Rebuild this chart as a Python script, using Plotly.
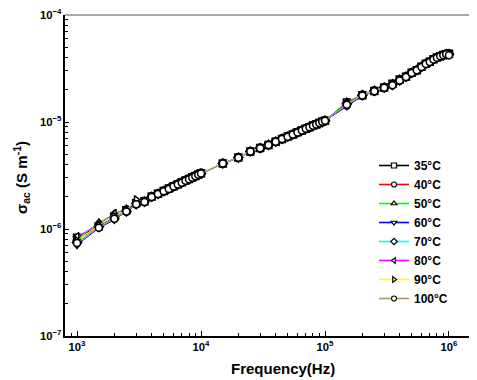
import plotly.graph_objects as go

freq_hz = [1000, 1500, 2000, 2500, 3000, 3500, 4000, 4500, 5000, 5500, 6000, 6500, 7000, 7500, 8000, 8500, 9000, 9500, 10000,
           15000, 20000, 25000, 30000, 35000, 40000, 45000, 50000, 55000, 60000, 65000, 70000, 75000, 80000, 85000, 90000, 95000, 100000,
           150000, 200000, 250000, 300000, 350000, 400000, 450000, 500000, 550000, 600000, 650000, 700000, 750000, 800000, 850000, 900000, 950000, 1000000]

# conductivity values in units of 1e-6 S/m
UNIT = 1e-6
sig_35 = [0.83, 1.06, 1.30, 1.50, 1.74, 1.82, 2.01, 2.14, 2.27, 2.39, 2.51, 2.62, 2.73, 2.84, 2.94, 3.04, 3.13, 3.23, 3.32,
          4.10, 4.65, 5.30, 5.70, 6.10, 6.55, 6.95, 7.30, 7.65, 8.00, 8.35, 8.65, 8.95, 9.25, 9.50, 9.80, 10.05, 10.30,
          15.2, 17.8, 19.5, 21.0, 22.8, 25.0, 26.5, 28.8, 30.5, 32.8, 35.0, 36.5, 38.5, 40.0, 41.2, 42.2, 43.0, 43.5]
sig_40 = [0.79, 1.04, 1.24, 1.45, 1.70, 1.79, 1.99, 2.12, 2.25, 2.37, 2.49, 2.60, 2.71, 2.82, 2.92, 3.02, 3.11, 3.21, 3.30,
          4.08, 4.64, 5.28, 5.69, 6.09, 6.54, 6.94, 7.29, 7.64, 7.99, 8.34, 8.64, 8.94, 9.24, 9.49, 9.79, 10.04, 10.28,
          14.3, 17.6, 19.4, 20.9, 22.0, 24.3, 26.4, 28.7, 30.4, 32.7, 34.9, 36.4, 38.4, 39.9, 41.1, 42.1, 42.9, 42.8]
sig_50 = [0.80, 1.15, 1.38, 1.55, 1.80, 1.83, 2.02, 2.15, 2.28, 2.40, 2.52, 2.63, 2.74, 2.85, 2.95, 3.05, 3.14, 3.24, 3.33,
          4.12, 4.67, 5.32, 5.72, 6.12, 6.57, 6.97, 7.32, 7.67, 8.02, 8.37, 8.67, 8.97, 9.27, 9.52, 9.82, 10.07, 10.32,
          15.5, 18.0, 19.7, 21.3, 23.0, 25.2, 26.7, 29.0, 30.7, 33.0, 35.2, 36.7, 38.7, 40.2, 41.4, 42.4, 43.2, 43.4]
sig_60 = [0.71, 1.02, 1.22, 1.44, 1.68, 1.78, 1.98, 2.11, 2.24, 2.36, 2.48, 2.59, 2.70, 2.81, 2.91, 3.01, 3.10, 3.20, 3.29,
          4.07, 4.62, 5.27, 5.68, 6.08, 6.53, 6.93, 7.28, 7.63, 7.98, 8.33, 8.63, 8.93, 9.23, 9.48, 9.78, 10.03, 10.27,
          14.0, 17.5, 19.3, 20.8, 21.8, 24.0, 26.3, 28.6, 30.3, 32.6, 34.8, 36.3, 38.3, 39.8, 41.0, 42.0, 42.8, 42.6]
sig_70 = [0.75, 1.05, 1.26, 1.46, 1.71, 1.80, 2.00, 2.13, 2.26, 2.38, 2.50, 2.61, 2.72, 2.83, 2.93, 3.03, 3.12, 3.22, 3.31,
          4.10, 4.65, 5.30, 5.70, 6.10, 6.55, 6.95, 7.30, 7.65, 8.00, 8.35, 8.65, 8.95, 9.25, 9.50, 9.80, 10.05, 10.30,
          14.8, 17.8, 19.5, 21.0, 22.3, 24.6, 26.5, 28.8, 30.5, 32.8, 35.0, 36.5, 38.5, 40.0, 41.2, 42.2, 43.0, 43.1]
sig_80 = [0.85, 1.10, 1.40, 1.52, 1.76, 1.81, 2.01, 2.14, 2.27, 2.39, 2.51, 2.62, 2.73, 2.84, 2.94, 3.04, 3.13, 3.23, 3.32,
          4.11, 4.66, 5.31, 5.71, 6.11, 6.56, 6.96, 7.31, 7.66, 8.01, 8.36, 8.66, 8.96, 9.26, 9.51, 9.81, 10.06, 10.31,
          15.0, 17.9, 19.6, 21.1, 22.6, 24.8, 26.6, 28.9, 30.6, 32.9, 35.1, 36.6, 38.6, 40.1, 41.3, 42.3, 43.1, 43.3]
sig_90 = [0.78, 1.08, 1.32, 1.50, 1.88, 1.82, 2.01, 2.14, 2.27, 2.39, 2.51, 2.62, 2.73, 2.84, 2.94, 3.04, 3.13, 3.23, 3.32,
          4.10, 4.65, 5.30, 5.70, 6.10, 6.55, 6.95, 7.30, 7.65, 8.00, 8.35, 8.65, 8.95, 9.25, 9.50, 9.80, 10.05, 10.30,
          14.6, 17.8, 19.5, 21.0, 22.4, 24.7, 26.5, 28.8, 30.5, 32.8, 35.0, 36.5, 38.5, 40.0, 41.2, 42.2, 43.0, 43.2]
sig_100 = [0.74, 1.03, 1.25, 1.46, 1.70, 1.79, 1.99, 2.12, 2.25, 2.37, 2.49, 2.60, 2.71, 2.82, 2.92, 3.02, 3.11, 3.21, 3.30,
           4.09, 4.64, 5.29, 5.69, 6.09, 6.54, 6.94, 7.29, 7.64, 7.99, 8.34, 8.64, 8.94, 9.24, 9.49, 9.79, 10.04, 10.29,
           14.5, 17.7, 19.4, 20.9, 22.1, 24.4, 26.4, 28.7, 30.4, 32.7, 34.9, 36.4, 38.4, 39.9, 41.1, 42.1, 42.9, 42.0]

series_names = ["35°C", "40°C", "50°C", "60°C", "70°C", "80°C", "90°C", "100°C"]
series_values = [sig_35, sig_40, sig_50, sig_60, sig_70, sig_80, sig_90, sig_100]
line_colors = ["#000000", "#ff0000", "#00ff00", "#0000ff", "#00ffff", "#ff00ff", "#ffff00", "#9f9a5e"]
symbols = ["square", "circle", "triangle-up", "triangle-down", "diamond", "triangle-left", "triangle-right", "circle"]

FONT = "Liberation Sans, Arial, sans-serif"

fig = go.Figure()
for name, vals, col, sym in zip(series_names, series_values, line_colors, symbols):
    fig.add_trace(go.Scatter(
        x=freq_hz, y=[v * UNIT for v in vals], name=name, mode="lines+markers",
        line=dict(color=col, width=1), showlegend=False, legendgroup=name,
        marker=dict(symbol=sym, size=7, color="white", line=dict(color="black", width=1.5)),
    ))
# legend entries (smaller symbols, as in the reference legend)
for name, col, sym in zip(series_names, line_colors, symbols):
    fig.add_trace(go.Scatter(
        x=[None], y=[None], name=name, mode="lines+markers", legendgroup=name,
        line=dict(color=col, width=1.6),
        marker=dict(symbol=sym, size=5, color="white", line=dict(color="black", width=1.2)),
    ))

# page body has an 8px margin; work in screen pixels and shift
OFF = 8
W, H = 477 - OFF, 380 - OFF
L, R, T, B = 65 - OFF, 0, 15 - OFF, 380 - 336
pw, ph = W - L - R, H - T - B


def px(xs):
    return (xs - OFF - L) / pw


def py(ys):
    return 1 - (ys - OFF - T) / ph


fig.update_layout(
    width=W, height=H,
    margin=dict(l=L, r=R, t=T, b=B, pad=0),
    paper_bgcolor="white", plot_bgcolor="white",
    font=dict(family=FONT, color="black", size=12, weight="bold"),
    showlegend=True,
    legend=dict(x=px(374), y=py(151), xanchor="left", yanchor="top",
                bgcolor="rgba(0,0,0,0)", borderwidth=0,
                font=dict(family=FONT, size=12, weight="bold", color="black"),
                tracegroupgap=0),
    xaxis=dict(type="log", range=[2.903, 6.226], dtick=1, exponentformat="power",
               showgrid=False, zeroline=False, showline=True, linecolor="black", linewidth=1.5,
               ticks="inside", ticklen=5, tickwidth=1, tickcolor="black",
               tickfont=dict(family=FONT, size=9, weight="bold"), ticklabeloverflow="allow",
               minor=dict(ticks="inside", ticklen=3, dtick="D1", tickcolor="black", showgrid=False),
               mirror=False),
    yaxis=dict(type="log", range=[-7, -4], dtick=1, exponentformat="power",
               showgrid=False, zeroline=False, showline=True, linecolor="black", linewidth=1.5,
               ticks="inside", ticklen=4, tickwidth=1, tickcolor="black",
               tickfont=dict(family=FONT, size=9, weight="bold"), ticklabeloverflow="allow",
               minor=dict(ticks="inside", ticklen=3, dtick="D1", tickcolor="black", showgrid=False),
               mirror=False),
    shapes=[dict(type="line", xref="paper", yref="paper", x0=0, x1=1, y0=1, y1=1,
                 line=dict(color="#555555", width=1))],
    annotations=[
        dict(text="<b>Frequency(Hz)</b>", xref="paper", yref="paper",
             x=px(283), y=py(368), xanchor="center", yanchor="middle",
             showarrow=False, font=dict(family=FONT, size=15, color="black")),
        dict(text="<b>σ<sub>ac</sub> (S m<sup>-1</sup>)</b>", xref="paper", yref="paper",
             x=px(22), y=py(178), xanchor="center", yanchor="middle",
             textangle=-90, showarrow=False, font=dict(family=FONT, size=15, color="black")),
    ],
)

fig.write_html("out.html")
